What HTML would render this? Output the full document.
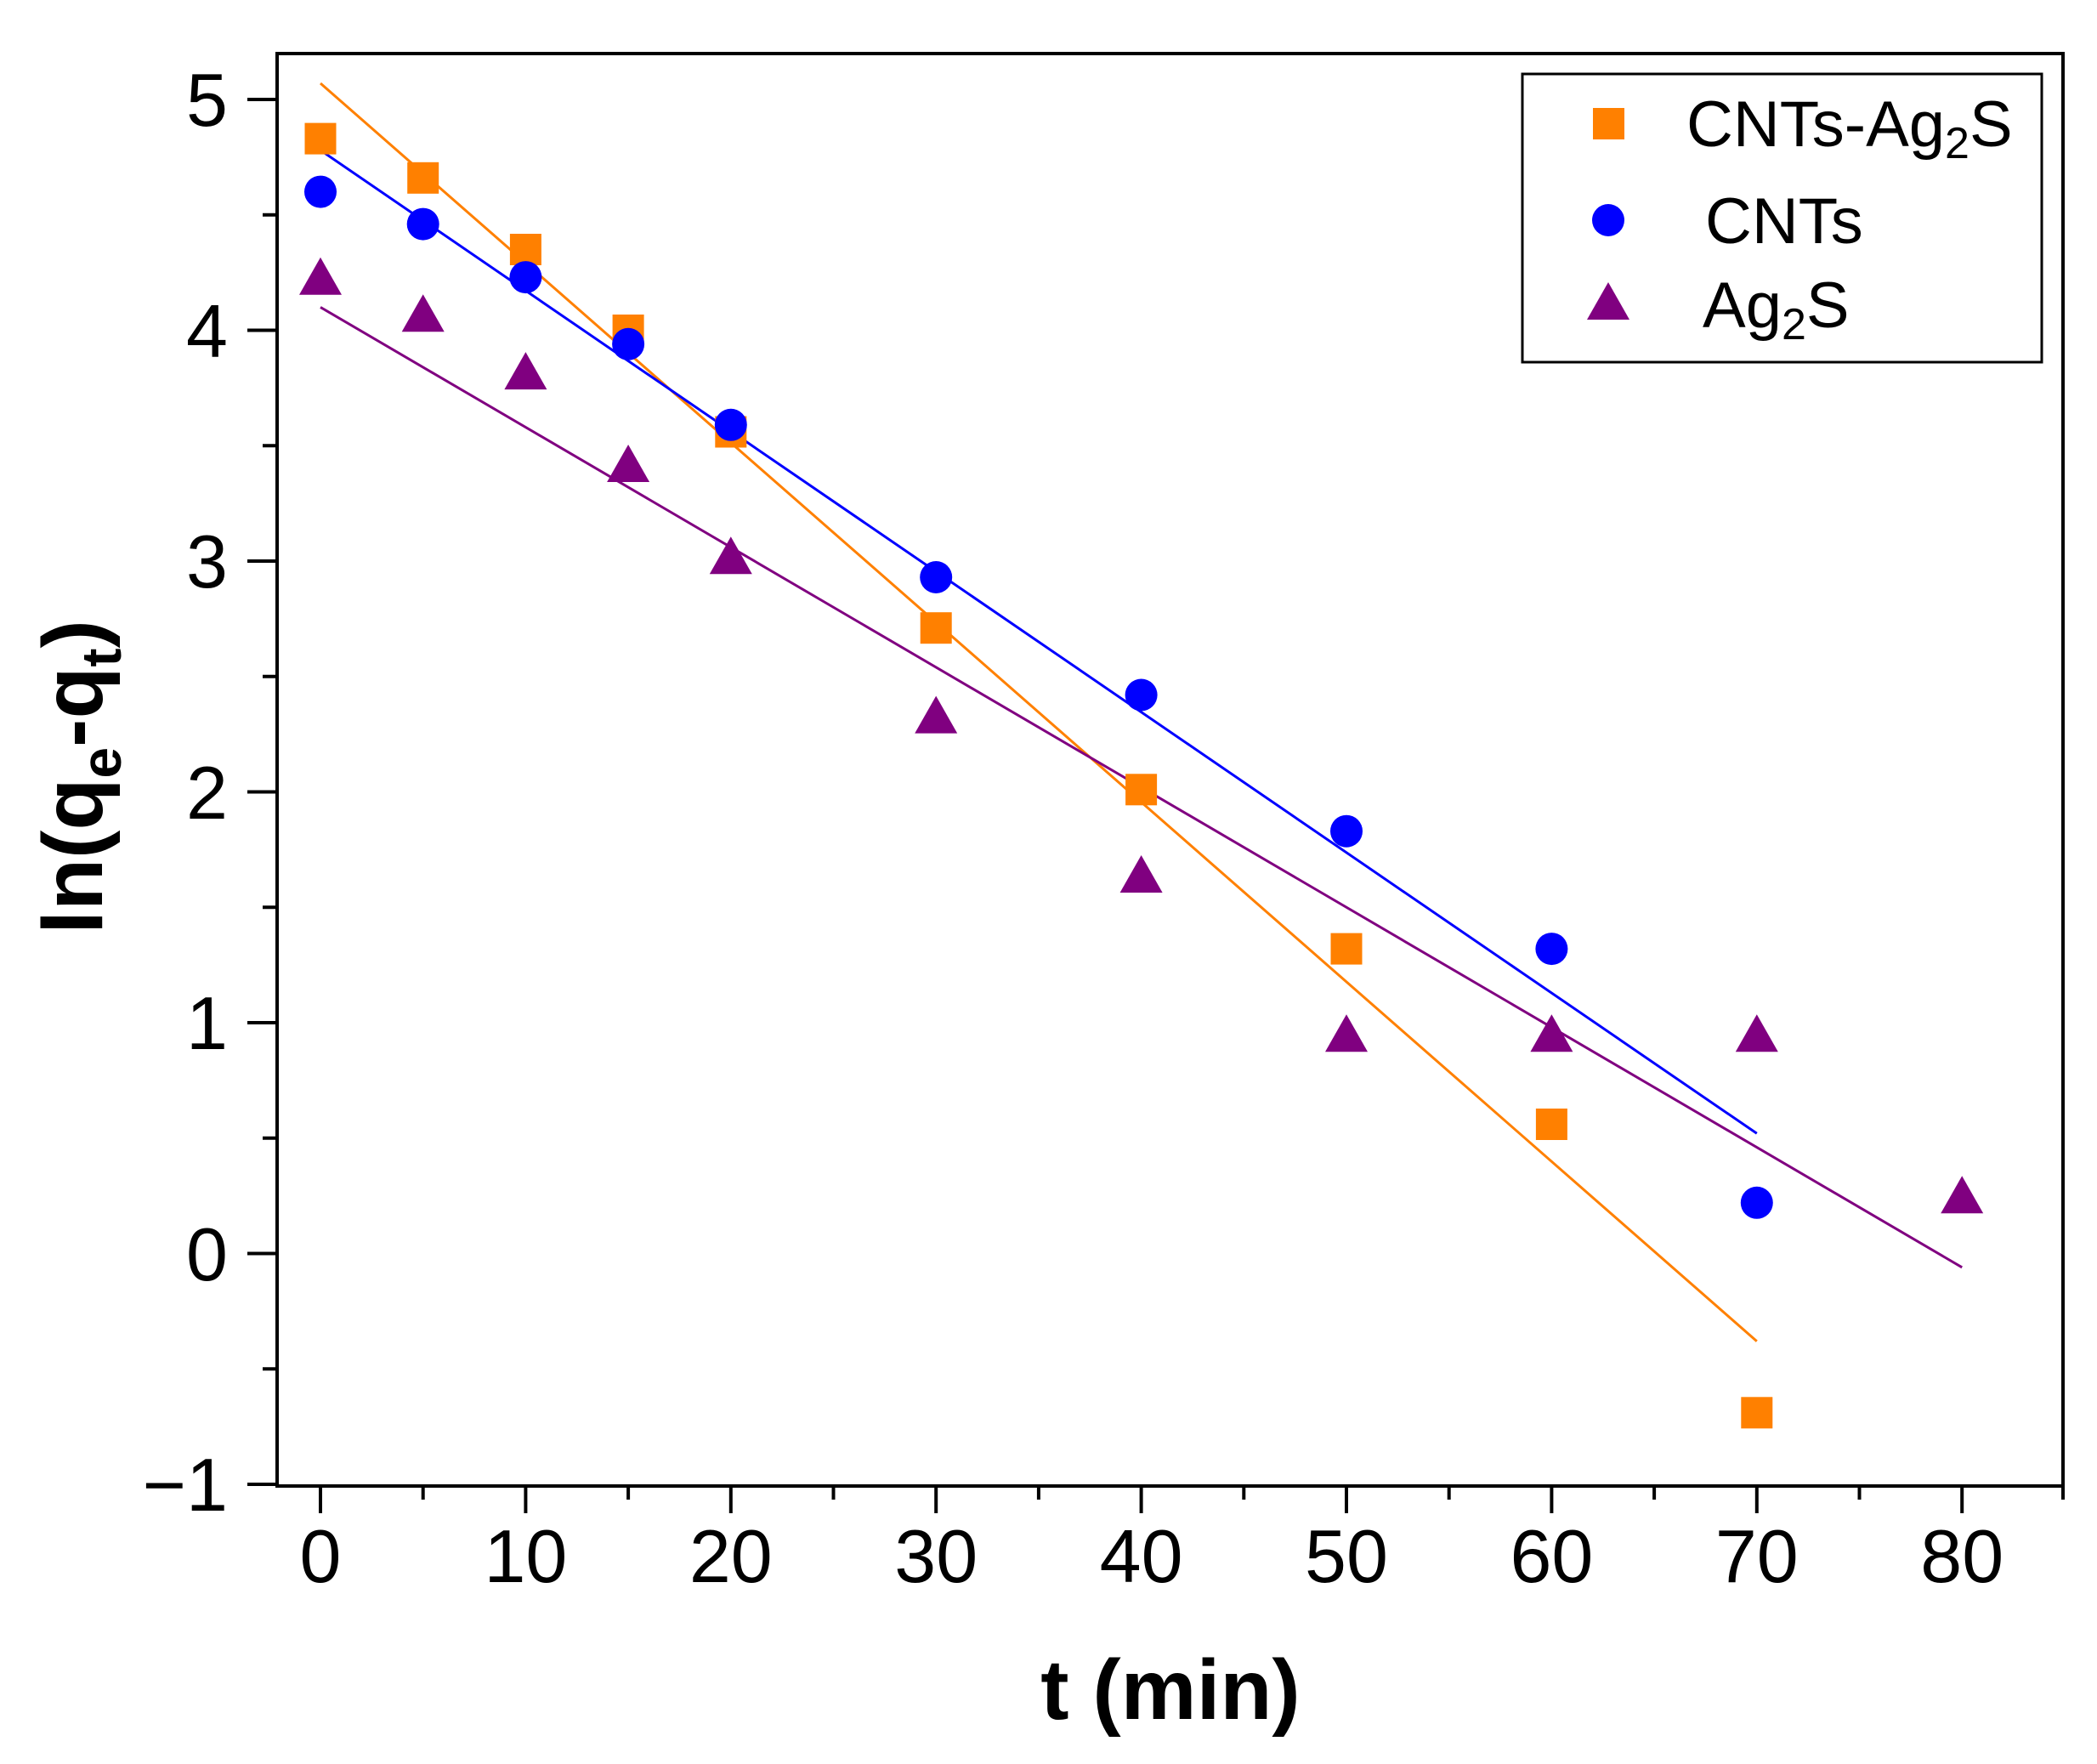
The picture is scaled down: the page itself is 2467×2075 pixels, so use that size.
<!DOCTYPE html>
<html><head><meta charset="utf-8"><style>html,body{margin:0;padding:0;background:#fff}svg{display:block}</style></head>
<body>
<svg width="2467" height="2075" viewBox="0 0 2467 2075" xmlns="http://www.w3.org/2000/svg" font-family="Liberation Sans, Arial, sans-serif">
<rect width="2467" height="2075" fill="#fff"/>
<!-- fit lines -->
<line x1="377" y1="98" x2="2066.8" y2="1577.7" stroke="#FF8000" stroke-width="3"/>
<line x1="377" y1="176.7" x2="2066.8" y2="1333.3" stroke="#0000FF" stroke-width="3"/>
<line x1="377" y1="361.4" x2="2308.2" y2="1490.8" stroke="#800080" stroke-width="3"/>
<!-- orange squares -->
<g fill="#FF8000">
<rect x="358.5" y="144.6" width="37" height="37"/>
<rect x="479.2" y="190.8" width="37" height="37"/>
<rect x="599.9" y="275" width="37" height="37"/>
<rect x="720.6" y="370" width="37" height="37"/>
<rect x="841.3" y="489.5" width="37" height="37"/>
<rect x="1082.7" y="720.2" width="37" height="37"/>
<rect x="1324.1" y="910.3" width="37" height="37"/>
<rect x="1565.5" y="1097.6" width="37" height="37"/>
<rect x="1806.9" y="1304" width="37" height="37"/>
<rect x="2048.3" y="1643.3" width="37" height="37"/>
</g>
<!-- blue circles -->
<g fill="#0000FF">
<circle cx="377" cy="225.6" r="19"/>
<circle cx="497.7" cy="263.6" r="19"/>
<circle cx="618.4" cy="326.1" r="19"/>
<circle cx="739.1" cy="404.8" r="19"/>
<circle cx="859.8" cy="499.8" r="19"/>
<circle cx="1101.2" cy="679" r="19"/>
<circle cx="1342.6" cy="817.5" r="19"/>
<circle cx="1584" cy="977.7" r="19"/>
<circle cx="1825.4" cy="1116.1" r="19"/>
<circle cx="2066.8" cy="1414.8" r="19"/>
</g>
<!-- purple triangles -->
<g fill="#800080">
<polygon points="377,302.8 352,346.8 402,346.8"/>
<polygon points="497.7,346.2 472.7,390.2 522.7,390.2"/>
<polygon points="618.4,414.1 593.4,458.1 643.4,458.1"/>
<polygon points="739.1,523 714.1,567 764.1,567"/>
<polygon points="859.8,631.3 834.8,675.3 884.8,675.3"/>
<polygon points="1101.2,818.6 1076.2,862.6 1126.2,862.6"/>
<polygon points="1342.6,1006 1317.6,1050 1367.6,1050"/>
<polygon points="1584,1193.3 1559,1237.3 1609,1237.3"/>
<polygon points="1825.4,1193.3 1800.4,1237.3 1850.4,1237.3"/>
<polygon points="2066.8,1193.3 2041.8,1237.3 2091.8,1237.3"/>
<polygon points="2308.2,1383.3 2283.2,1427.3 2333.2,1427.3"/>
</g>
<!-- axes frame -->
<rect x="326" y="63" width="2101" height="1685" fill="none" stroke="#000" stroke-width="4"/>
<g stroke="#000" stroke-width="4">
<!-- y major -->
<line x1="291" y1="117" x2="326" y2="117"/>
<line x1="291" y1="388.5" x2="326" y2="388.5"/>
<line x1="291" y1="660" x2="326" y2="660"/>
<line x1="291" y1="931.5" x2="326" y2="931.5"/>
<line x1="291" y1="1203" x2="326" y2="1203"/>
<line x1="291" y1="1474.5" x2="326" y2="1474.5"/>
<line x1="291" y1="1746" x2="326" y2="1746"/>
<!-- y minor -->
<line x1="309" y1="252.8" x2="326" y2="252.8"/>
<line x1="309" y1="524.3" x2="326" y2="524.3"/>
<line x1="309" y1="795.8" x2="326" y2="795.8"/>
<line x1="309" y1="1067.3" x2="326" y2="1067.3"/>
<line x1="309" y1="1338.8" x2="326" y2="1338.8"/>
<line x1="309" y1="1610.3" x2="326" y2="1610.3"/>
<!-- x major -->
<line x1="377" y1="1748" x2="377" y2="1780"/>
<line x1="618.4" y1="1748" x2="618.4" y2="1780"/>
<line x1="859.8" y1="1748" x2="859.8" y2="1780"/>
<line x1="1101.2" y1="1748" x2="1101.2" y2="1780"/>
<line x1="1342.6" y1="1748" x2="1342.6" y2="1780"/>
<line x1="1584" y1="1748" x2="1584" y2="1780"/>
<line x1="1825.4" y1="1748" x2="1825.4" y2="1780"/>
<line x1="2066.8" y1="1748" x2="2066.8" y2="1780"/>
<line x1="2308.2" y1="1748" x2="2308.2" y2="1780"/>
<!-- x minor -->
<line x1="497.7" y1="1748" x2="497.7" y2="1764"/>
<line x1="739.1" y1="1748" x2="739.1" y2="1764"/>
<line x1="980.5" y1="1748" x2="980.5" y2="1764"/>
<line x1="1221.9" y1="1748" x2="1221.9" y2="1764"/>
<line x1="1463.3" y1="1748" x2="1463.3" y2="1764"/>
<line x1="1704.7" y1="1748" x2="1704.7" y2="1764"/>
<line x1="1946.1" y1="1748" x2="1946.1" y2="1764"/>
<line x1="2187.5" y1="1748" x2="2187.5" y2="1764"/>
<line x1="2427" y1="1748" x2="2427" y2="1764"/>
</g>
<!-- y labels -->
<g font-size="88" text-anchor="end" fill="#000">
<text x="268" y="148">5</text>
<text x="268" y="420">4</text>
<text x="268" y="691">3</text>
<text x="268" y="963">2</text>
<text x="268" y="1234">1</text>
<text x="268" y="1506">0</text>
<text x="268" y="1777">−1</text>
</g>
<!-- x labels -->
<g font-size="88" text-anchor="middle" fill="#000">
<text x="377" y="1861">0</text>
<text x="618.4" y="1861">10</text>
<text x="859.8" y="1861">20</text>
<text x="1101.2" y="1861">30</text>
<text x="1342.6" y="1861">40</text>
<text x="1584" y="1861">50</text>
<text x="1825.4" y="1861">60</text>
<text x="2066.8" y="1861">70</text>
<text x="2308.2" y="1861">80</text>
</g>
<text x="1377" y="2022" font-size="100" font-weight="bold" text-anchor="middle">t (min)</text>
<text transform="translate(120,914) rotate(-90)" font-size="100" font-weight="bold" text-anchor="middle">ln(q<tspan font-size="66" dy="22">e</tspan><tspan dy="-22">-q</tspan><tspan font-size="66" dy="22">t</tspan><tspan dy="-22">)</tspan></text>
<!-- legend -->
<rect x="1791" y="87" width="611" height="339" fill="#fff" stroke="#000" stroke-width="3"/>
<rect x="1874" y="127" width="37" height="37" fill="#FF8000"/>
<circle cx="1892" cy="259" r="19" fill="#0000FF"/>
<polygon points="1892,332 1867,376 1917,376" fill="#800080"/>
<g font-size="76" fill="#000">
<text x="1984" y="172">CNTs-Ag<tspan font-size="52" dy="14">2</tspan><tspan dy="-14">S</tspan></text>
<text x="2006" y="286">CNTs</text>
<text x="2003" y="385">Ag<tspan font-size="52" dy="14">2</tspan><tspan dy="-14">S</tspan></text>
</g>
</svg>
</body></html>
